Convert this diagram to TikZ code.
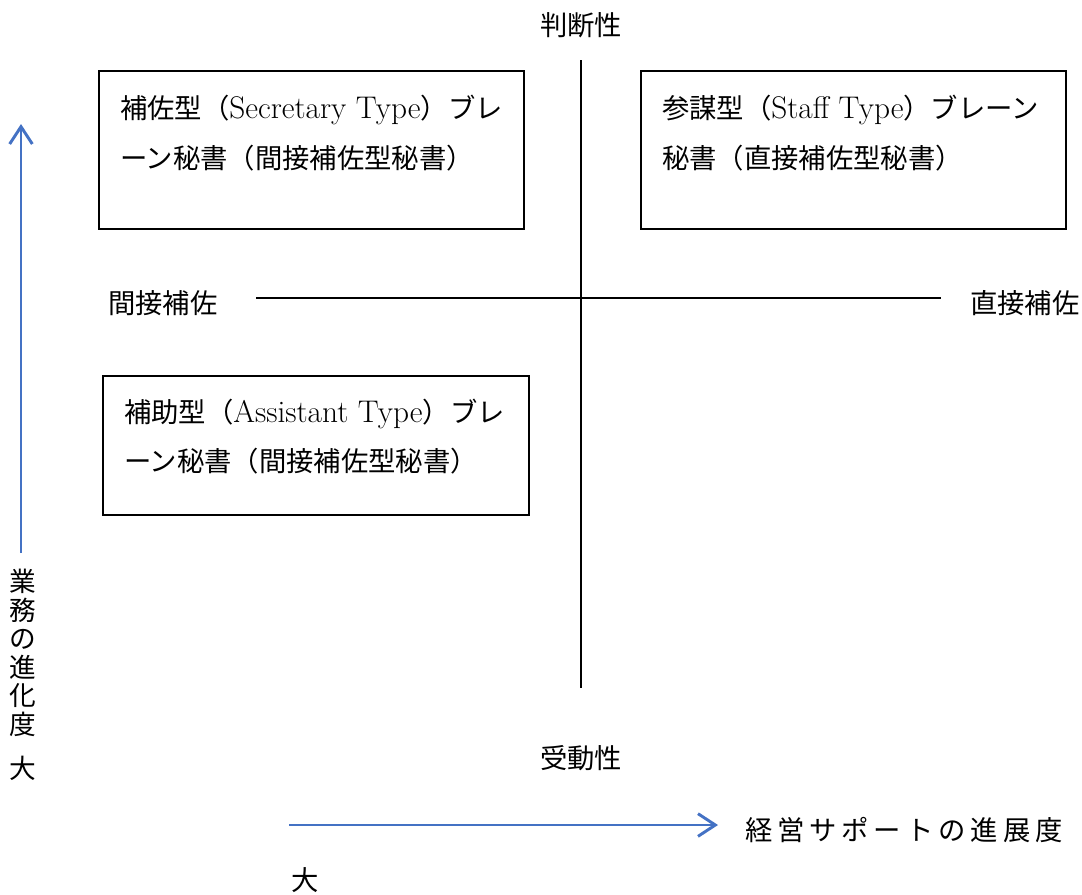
\documentclass[tikz,border=0pt]{standalone}
\usepackage{fontspec}
\newfontfamily\cjk{Noto Sans CJK JP}
\newfontfamily\cjkspaced{Noto Sans CJK JP}[LetterSpace=18]
\newcommand\jtext[1]{{\cjk #1}}
\newcommand\lat[1]{{\fontsize{23.5}{28}\selectfont #1}}
\usetikzlibrary{arrows.meta}
\definecolor{axisblue}{RGB}{68,114,196}
\begin{document}
\begin{tikzpicture}[x=0.75pt,y=-0.75pt,
  txt/.style={inner sep=0pt,outer sep=0pt,anchor=base west,font=\fontsize{20.5}{24}\selectfont},
  lbl/.style={inner sep=0pt,outer sep=0pt,anchor=base,font=\fontsize{20.5}{24}\selectfont\cjk},
  typebox/.style={draw=black,line width=1.3pt,inner sep=0pt,outer sep=0pt,minimum width=318.75pt},
  axisline/.style={draw=black,line width=1.3pt},
  bluearrow/.style={draw=axisblue,line width=2.2pt,-{Straight Barb[length=13pt,width=17pt,line width=2.2pt]}}
]
\useasboundingbox (0,0) rectangle (1082,894);
% boxes
\node[typebox,minimum height=118.5pt] (b1) at (311.5,150) {};
\node[typebox,minimum height=118.5pt] (b2) at (853.5,150) {};
\node[typebox,minimum width=319.5pt,minimum height=104.25pt] (b3) at (316,445.5) {};
% box texts
\node[txt] (b1l1) at (120,118.5) {\jtext{補佐型（}\lat{Secretary Type}\jtext{）ブレ}};
\node[txt] (b1l2) at (120,168) {\jtext{ーン秘書（間接補佐型秘書）}};
\node[txt] (b2l1) at (662,118.5) {\jtext{参謀型（}\lat{Staff Type}\jtext{）ブレーン}};
\node[txt] (b2l2) at (662,168) {\jtext{秘書（直接補佐型秘書）}};
\node[txt] (b3l1) at (124,422.5) {\jtext{補助型（}\lat{Assistant Type}\jtext{）ブレ}};
\node[txt] (b3l2) at (124,471) {\jtext{ーン秘書（間接補佐型秘書）}};
% axes
\coordinate (vtop) at (581,60);
\coordinate (vbot) at (581,688);
\coordinate (hleft) at (256,298);
\coordinate (hright) at (941,298);
\draw[axisline] (vtop) -- (vbot);
\draw[axisline] (hleft) -- (hright);
\node[lbl] (top) at (581,35.5) {判断性};
\node[lbl] (bottom) at (581,768.5) {受動性};
\node[lbl,anchor=base west] (left) at (108,313.5) {間接補佐};
\node[lbl,anchor=base west] (right) at (970,313.5) {直接補佐};
% blue arrows
\coordinate (vastart) at (21,553);
\coordinate (vaend) at (21,124);
\draw[bluearrow] (vastart) -- (vaend);
\coordinate (hastart) at (289,825);
\coordinate (haend) at (718,825);
\draw[bluearrow] (hastart) -- (haend);
% vertical label
\node[inner sep=0pt,outer sep=0pt,anchor=north,align=center,font=\fontsize{20}{21.45}\selectfont\cjk] (vlabel) at (23,569) {業\\務\\の\\進\\化\\度};
\node[lbl,font=\fontsize{20}{24}\selectfont\cjk] (vbig) at (23,778) {大};
% horizontal label
\node[inner sep=0pt,outer sep=0pt,anchor=base west,font=\fontsize{20.5}{24}\selectfont\cjkspaced] (hlabel) at (745,840.5) {経営サポートの進展度};
\node[lbl,anchor=base west] (hbig) at (291,890.5) {大};
\end{tikzpicture}
\end{document}
